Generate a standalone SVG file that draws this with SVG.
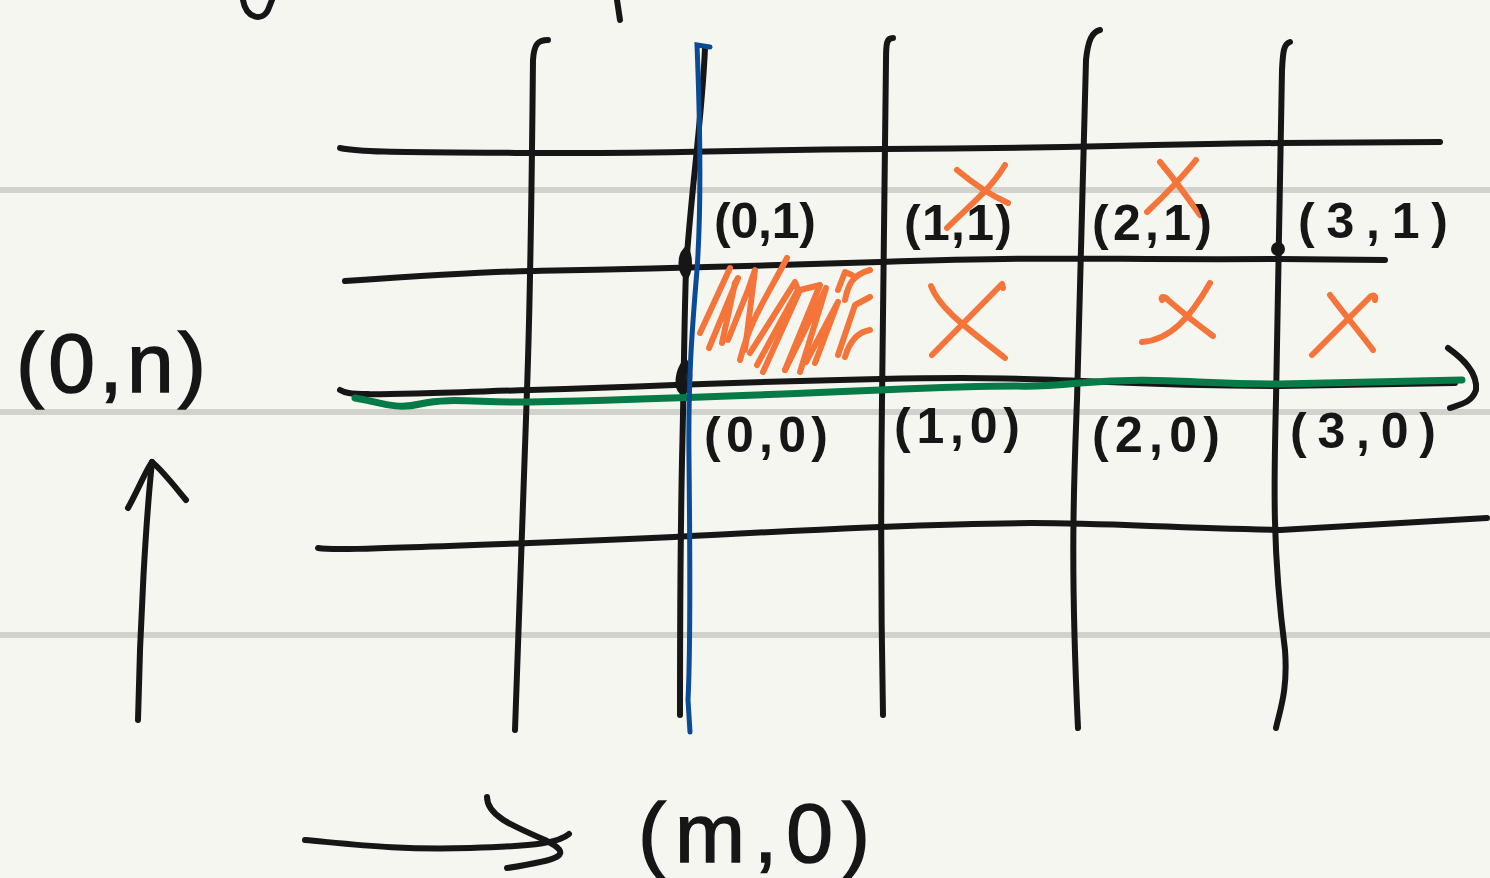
<svg xmlns="http://www.w3.org/2000/svg" width="1490" height="878" viewBox="0 0 1490 878">
  <style>
    .ink { fill: none; stroke: #161616; stroke-width: 6; stroke-linecap: round; stroke-linejoin: round; }
    .rule { fill: none; stroke: #d2d2cc; stroke-width: 6; }
    .hatch { fill: none; stroke: #f5743a; stroke-width: 6; stroke-linecap: round; stroke-linejoin: round; }
    .path-green { fill: none; stroke: #067a47; stroke-width: 7; stroke-linecap: round; }
    .path-blue { fill: none; stroke: #0b4a94; stroke-width: 5; stroke-linecap: round; }
    .lbl { font-family: "Liberation Sans", "DejaVu Sans", sans-serif; fill: #161616; font-size: 50px; font-weight: bold; }
    .big { font-size: 84px; font-weight: normal; stroke: #161616; stroke-width: 1.5; }
  </style>

  <!-- paper -->
  <rect width="1490" height="878" fill="#f5f6f0"/>
  <g id="ruling">
    <line class="rule" x1="0" y1="190" x2="1490" y2="190"/>
    <line class="rule" x1="0" y1="412" x2="1490" y2="412"/>
    <line class="rule" x1="0" y1="635" x2="1490" y2="635"/>
  </g>

  <!-- strokes cut off at the top edge -->
  <g id="top-fragments">
    <path class="ink" d="M243,0 C246,18 262,22 268,10 L272,0"/>
    <path class="ink" d="M617,0 L620,20" stroke-width="8"/>
  </g>

  <!-- grid -->
  <g id="grid">
    <path class="ink" d="M340,148 C360,152 380,152 530,153 S700,150 885,149 S1080,146 1280,143 L1440,142"/>
    <path class="ink" d="M345,281 C420,276 480,272 530,271 S690,268 880,262 S1080,260 1280,259 L1385,260"/>
    <path class="ink" d="M340,390 C350,396 360,395 530,390 S690,383 880,379 S1080,385 1280,386 L1455,383"/>
    <path class="ink" d="M318,548 C330,550 340,550 530,543 S690,535 880,527 S1080,525 1280,530 L1487,518"/>

    <path class="ink" d="M548,40 C538,40 534,44 533,60 C532,150 531,280 527,390 C524,480 520,560 515,730"/>
    <path class="ink" d="M705,48 C702,120 690,200 686,270 C684,330 684,380 682,460 C680,560 680,640 680,715"/>
    <path class="ink" d="M893,38 C887,38 886,42 886,60 C885,150 883,270 882,400 C881,480 880,560 883,715"/>
    <path class="ink" d="M1100,30 C1092,32 1088,40 1086,60 C1084,150 1081,260 1077,400 C1074,480 1070,560 1078,728"/>
    <path class="ink" d="M1290,42 C1284,44 1283,50 1282,70 C1280,150 1278,260 1276,400 C1274,480 1272,550 1285,650 C1288,690 1280,710 1276,728"/>

    <!-- closing stroke at the right end of the lines -->
    <path class="ink" d="M1448,348 C1462,358 1478,372 1476,390 C1472,402 1462,404 1450,408"/>

    <!-- intersection dots -->
    <path class="ink" d="M686,250 C680,256 680,270 686,276 C690,270 690,256 686,250 Z" fill="#161616" stroke-width="4"/>
    <path class="ink" d="M685,362 C678,372 676,386 682,392 C690,390 692,372 685,362 Z" fill="#161616" stroke-width="4"/>
    <circle cx="1278" cy="249" r="7" fill="#161616"/>
  </g>

  <!-- paths along the edges -->
  <g id="edge-paths">
    <path class="path-green" d="M355,398 C380,402 395,410 420,404 C450,397 480,403 530,402 S690,398 880,390 S1000,390 1080,383 S1200,385 1280,384 L1462,380"/>
    <path class="path-blue" d="M710,47 L697,45 C700,120 702,200 697,270 C692,330 688,380 689,460 C690,550 691,640 688,700 L690,732"/>
  </g>

  <!-- blocked cell hatching -->
  <g id="hatch">
    <path class="hatch" d="M700,333 L730,268"/>
    <path class="hatch" d="M709,348 L738,278 L735,283 L722,343"/>
    <path class="hatch" d="M728,340 L748,290 L755,270 L745,350"/>
    <path class="hatch" d="M740,360 C750,320 765,300 787,258"/>
    <path class="hatch" d="M750,353 L795,282 L798,290 L757,365"/>
    <path class="hatch" d="M763,372 L800,290 L820,285 L785,370"/>
    <path class="hatch" d="M785,370 L826,288 L800,372"/>
    <path class="hatch" d="M806,362 L838,302 L815,363"/>
    <path class="hatch" d="M838,290 L845,272 L852,275"/>
    <path class="hatch" d="M845,300 C848,285 852,275 870,270"/>
    <path class="hatch" d="M838,355 L855,305 L870,297"/>
    <path class="hatch" d="M845,357 C850,340 858,332 870,330"/>
  </g>

  <!-- cross marks -->
  <g id="crosses">
    <path class="hatch" d="M947,228 C970,205 990,190 1005,165"/>
    <path class="hatch" d="M957,170 C975,185 990,195 1008,203"/>
    <path class="hatch" d="M1147,212 C1165,195 1180,180 1196,160"/>
    <path class="hatch" d="M1160,162 C1175,180 1188,198 1200,215"/>
    <path class="hatch" d="M932,355 L1002,284 L1003,288"/>
    <path class="hatch" d="M931,286 C940,310 970,330 1005,358"/>
    <path class="hatch" d="M1142,342 C1170,340 1190,318 1210,283"/>
    <path class="hatch" d="M1162,300 C1160,296 1165,296 1168,300 C1182,312 1198,325 1213,336"/>
    <path class="hatch" d="M1312,355 L1370,297 C1374,294 1376,296 1375,300"/>
    <path class="hatch" d="M1330,295 C1345,315 1358,330 1373,350"/>
  </g>

  <!-- cell coordinates -->
  <g id="labels-row1">
    <text class="lbl" x="714" y="238" textLength="102" lengthAdjust="spacing">(0,1)</text>
    <text class="lbl" x="904" y="240" textLength="108" lengthAdjust="spacing">(1,1)</text>
    <text class="lbl" x="1092" y="240" textLength="120" lengthAdjust="spacing">(2,1)</text>
    <text class="lbl" x="1298" y="238" textLength="150" lengthAdjust="spacing">(3,1)</text>
  </g>
  <g id="labels-row0">
    <text class="lbl" x="704" y="452" textLength="124" lengthAdjust="spacing">(0,0)</text>
    <text class="lbl" x="894" y="443" textLength="126" lengthAdjust="spacing">(1,0)</text>
    <text class="lbl" x="1092" y="452" textLength="128" lengthAdjust="spacing">(2,0)</text>
    <text class="lbl" x="1290" y="448" textLength="146" lengthAdjust="spacing">(3,0)</text>
  </g>

  <!-- axis arrows -->
  <g id="axis-up">
    <path class="ink" d="M138,720 C140,620 146,520 152,462"/>
    <path class="ink" d="M128,508 C138,490 146,470 152,462 C162,470 176,488 186,500"/>
    <text class="lbl big" x="16" y="392" textLength="190" lengthAdjust="spacing">(0,n)</text>
  </g>
  <g id="axis-right">
    <path class="ink" d="M305,840 C360,845 400,850 470,848 C540,846 560,842 569,834"/>
    <path class="ink" d="M487,797 C487,815 510,825 545,840 C575,855 560,860 507,868"/>
    <text class="lbl big" x="638" y="862" textLength="232" lengthAdjust="spacing">(m,0)</text>
  </g>
</svg>
